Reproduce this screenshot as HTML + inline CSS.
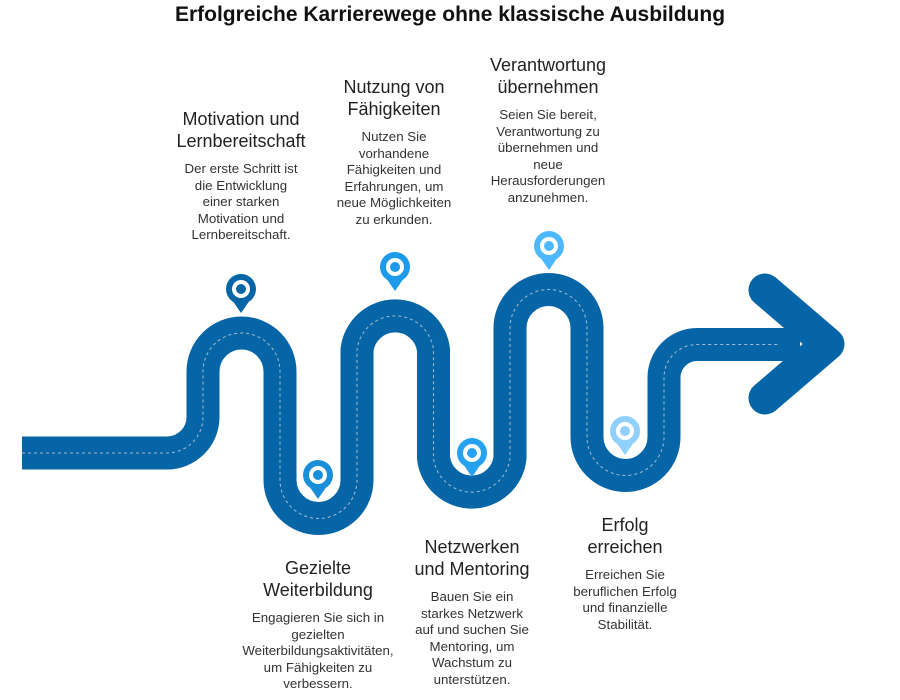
<!DOCTYPE html>
<html><head><meta charset="utf-8"><style>
body{margin:0;width:900px;height:700px;background:#fff;position:relative;overflow:hidden;font-family:"Liberation Sans",Roboto,sans-serif;}
.t{position:absolute;top:3px;left:0;width:900px;text-align:center;font-weight:bold;font-size:21px;color:#111;}
.b{position:absolute;width:240px;text-align:center;color:#222;}
.h{font-size:18px;line-height:22px;}
.p{font-size:13.3px;line-height:16.6px;color:#333;margin-top:9px;}
svg{position:absolute;left:0;top:0;}
</style></head><body>
<svg width="900" height="700">
<g fill="none" stroke-linecap="butt">
<path d="M22,453 H167 A36,36 0 0 0 203,417 V371.5 A38.5,38.5 0 0 1 280,371.5 V480 A38.5,38.5 0 0 0 357,480 V350 A38.5,38.5 0 0 1 433.5,350 V458 A38.5,38.5 0 0 0 510,458 V328 A38.5,38.5 0 0 1 587,328 V437 A38.5,38.5 0 0 0 664,437 V377.5 A33,33 0 0 1 697,344.5 H800" stroke="#0565a6" stroke-width="33"/>
<path d="M765,290 L828,344 L765,398" stroke="#0565a6" stroke-width="33" stroke-linecap="round" stroke-linejoin="round"/>
<path d="M22,453 H167 A36,36 0 0 0 203,417 V371.5 A38.5,38.5 0 0 1 280,371.5 V480 A38.5,38.5 0 0 0 357,480 V350 A38.5,38.5 0 0 1 433.5,350 V458 A38.5,38.5 0 0 0 510,458 V328 A38.5,38.5 0 0 1 587,328 V437 A38.5,38.5 0 0 0 664,437 V377.5 A33,33 0 0 1 697,344.5 H780" stroke="#a9bccf" stroke-width="1" stroke-dasharray="3 3"/>
</g>
<g id="pins">
<g transform="translate(241,289)" fill="#0565a6"><circle r="15"/><path d="M-9,11 L0,24 L9,11Z"/><circle r="9" fill="#fff"/><circle r="5"/></g>
<g transform="translate(318,475)" fill="#1a8ed8"><circle r="15"/><path d="M-9,11 L0,24 L9,11Z"/><circle r="9" fill="#fff"/><circle r="5"/></g>
<g transform="translate(395,267)" fill="#1e9be8"><circle r="15"/><path d="M-9,11 L0,24 L9,11Z"/><circle r="9" fill="#fff"/><circle r="5"/></g>
<g transform="translate(472,453)" fill="#25a3f0"><circle r="15"/><path d="M-9,11 L0,24 L9,11Z"/><circle r="9" fill="#fff"/><circle r="5"/></g>
<g transform="translate(549,246)" fill="#4db8ff"><circle r="15"/><path d="M-9,11 L0,24 L9,11Z"/><circle r="9" fill="#fff"/><circle r="5"/></g>
<g transform="translate(625,431)" fill="#8fd0ff"><circle r="15"/><path d="M-9,11 L0,24 L9,11Z"/><circle r="9" fill="#fff"/><circle r="5"/></g>
</g>
</svg>
<div class="t">Erfolgreiche Karrierewege ohne klassische Ausbildung</div>
<div class="b" style="left:121px;top:108px"><div class="h">Motivation und<br>Lernbereitschaft</div><div class="p">Der erste Schritt ist<br>die Entwicklung<br>einer starken<br>Motivation und<br>Lernbereitschaft.</div></div>
<div class="b" style="left:274px;top:76px"><div class="h">Nutzung von<br>Fähigkeiten</div><div class="p">Nutzen Sie<br>vorhandene<br>Fähigkeiten und<br>Erfahrungen, um<br>neue Möglichkeiten<br>zu erkunden.</div></div>
<div class="b" style="left:428px;top:54px"><div class="h">Verantwortung<br>übernehmen</div><div class="p">Seien Sie bereit,<br>Verantwortung zu<br>übernehmen und<br>neue<br>Herausforderungen<br>anzunehmen.</div></div>
<div class="b" style="left:198px;top:557px"><div class="h">Gezielte<br>Weiterbildung</div><div class="p">Engagieren Sie sich in<br>gezielten<br>Weiterbildungsaktivitäten,<br>um Fähigkeiten zu<br>verbessern.</div></div>
<div class="b" style="left:352px;top:536px"><div class="h">Netzwerken<br>und Mentoring</div><div class="p">Bauen Sie ein<br>starkes Netzwerk<br>auf und suchen Sie<br>Mentoring, um<br>Wachstum zu<br>unterstützen.</div></div>
<div class="b" style="left:505px;top:514px"><div class="h">Erfolg<br>erreichen</div><div class="p">Erreichen Sie<br>beruflichen Erfolg<br>und finanzielle<br>Stabilität.</div></div>
</body></html>
